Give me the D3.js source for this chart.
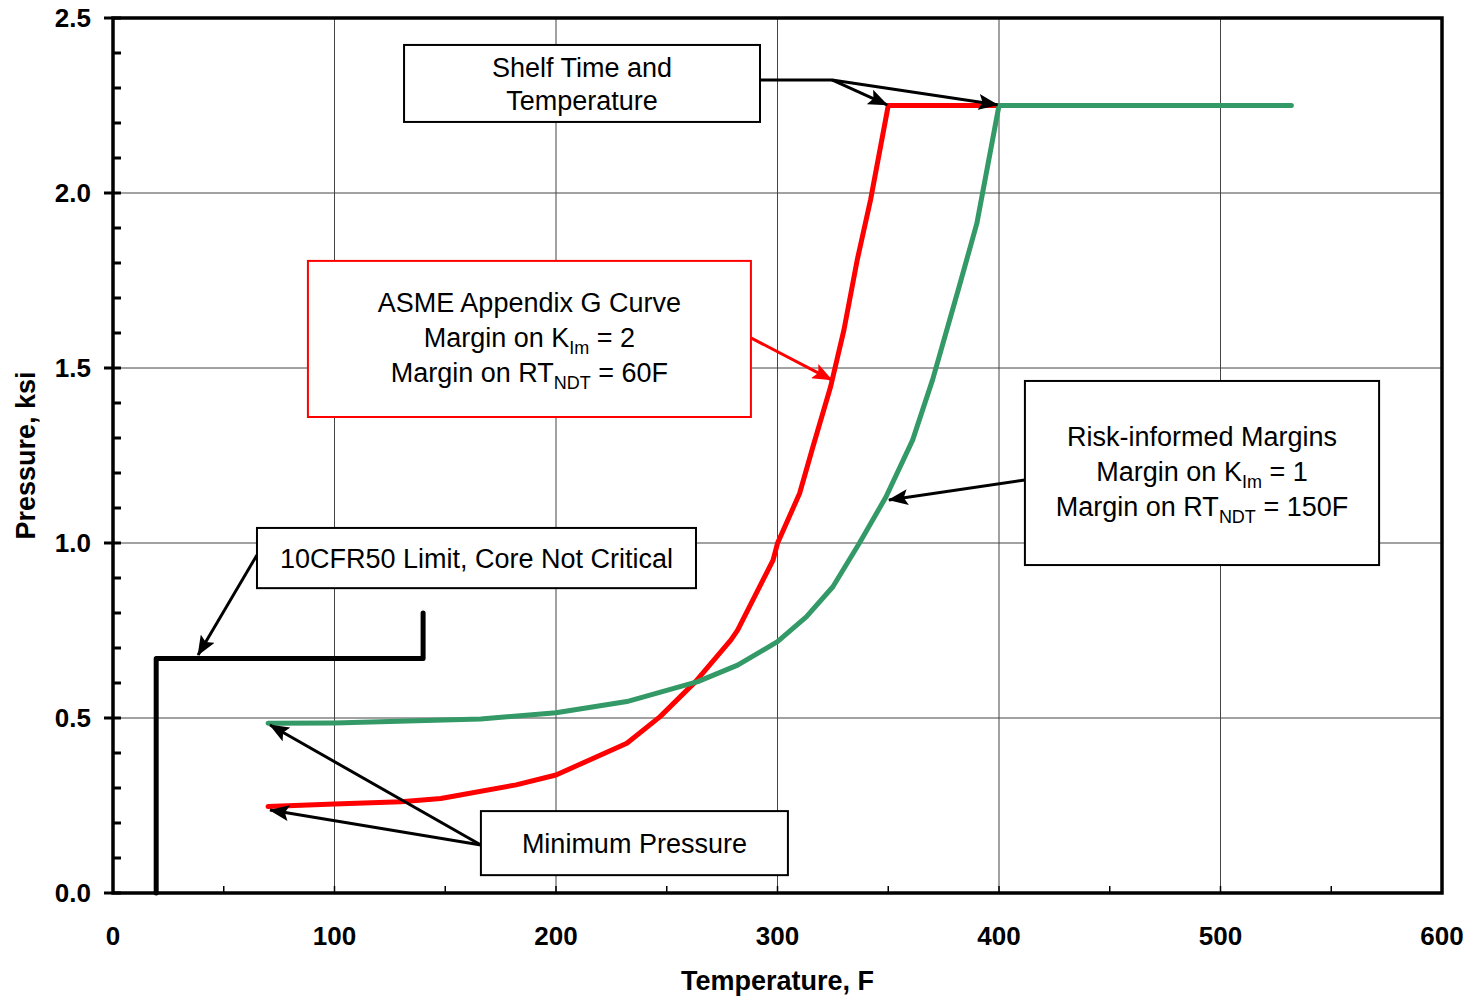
<!DOCTYPE html>
<html>
<head>
<meta charset="utf-8" />
<title>P-T limit curves</title>
<script src="https://cdnjs.cloudflare.com/ajax/libs/d3/7.8.5/d3.min.js"></script>
<style>
	body { margin: 0; background: #ffffff; }
	svg text { font-family: Arial, "Liberation Sans", sans-serif; }
	.tick-label { font-size: 26px; font-weight: bold; }
	.axis-title { font-size: 27px; font-weight: bold; }
	.box-text { font-size: 27px; }
</style>
</head>
<body>
<svg id="chart" width="1470" height="996"></svg>
<script>
// axis ticks
const xTicks = [0, 100, 200, 300, 400, 500, 600];
const yTicks = [0.0, 0.5, 1.0, 1.5, 2.0, 2.5];

// ASME Appendix G curve (temperature F, pressure ksi)
const asmeTemp = [70, 100, 130, 148, 182, 200, 232, 247, 263, 279, 282, 298, 300, 310, 316, 324, 330, 336, 342, 350, 400];
const asmePres = [0.247, 0.254, 0.261, 0.270, 0.309, 0.337, 0.428, 0.504, 0.604, 0.723, 0.751, 0.951, 0.999, 1.142, 1.275, 1.447, 1.609, 1.809, 1.980, 2.25, 2.25];

// Risk-informed curve
const riskTemp = [70, 100, 166, 200, 232, 264, 282, 300, 313, 325, 337, 349, 361, 370, 382, 390, 400, 532];
const riskPres = [0.485, 0.486, 0.497, 0.515, 0.547, 0.604, 0.651, 0.718, 0.789, 0.875, 1.0, 1.132, 1.294, 1.466, 1.732, 1.913, 2.25, 2.25];

// 10CFR50 limit, core not critical
const cfrTemp = [19.5, 19.5, 140, 140];
const cfrPres = [0, 0.67, 0.67, 0.8];

// annotation boxes in data units
const boxes = [
	{ lines: [["Shelf Time and"], ["Temperature"]], x0: 131.4, x1: 292.1, y0: 2.423, y1: 2.203, color: "#000", gap: 33, shift: 0 },
	{ lines: [["ASME Appendix G Curve"], ["Margin on K", "Im", " = 2"], ["Margin on RT", "NDT", " = 60F"]], x0: 88.0, x1: 288.0, y0: 1.806, y1: 1.36, color: "#ff0000", gap: 35, shift: -2 },
	{ lines: [["Risk-informed Margins"], ["Margin on K", "Im", " = 1"], ["Margin on RT", "NDT", " = 150F"]], x0: 411.7, x1: 571.6, y0: 1.463, y1: 0.937, color: "#000", gap: 35, shift: -2 },
	{ lines: [["10CFR50 Limit, Core Not Critical"]], x0: 65.0, x1: 263.2, y0: 1.043, y1: 0.871, color: "#000", gap: 0, shift: 0 },
	{ lines: [["Minimum Pressure"]], x0: 166.1, x1: 304.7, y0: 0.234, y1: 0.051, color: "#000", gap: 0, shift: 0 }
];

// leader lines and arrows [fromT, fromP, toT, toP, head]
const leaders = [
	[292.1, 2.323, 324.6, 2.323, false],
	[324.6, 2.323, 349.5, 2.252, true],
	[324.6, 2.323, 399.3, 2.252, true],
	[288.0, 1.586, 324.4, 1.466, true],
	[411.7, 1.18, 350.3, 1.123, true],
	[65.0, 0.966, 38.4, 0.68, true],
	[166.1, 0.137, 70.9, 0.48, true],
	[166.1, 0.137, 70.9, 0.237, true]
];
const leaderColors = ["#000", "#000", "#000", "#ff0000", "#000", "#000", "#000", "#000"];

const margin = { left: 113, top: 18, right: 28, bottom: 103 };
const width = 1470 - margin.left - margin.right;
const height = 996 - margin.top - margin.bottom;

const svg = d3.select("#chart");
const g = svg.append("g").attr("transform", `translate(${margin.left},${margin.top})`);

const x = d3.scaleLinear().domain([0, 600]).range([0, width]);
const y = d3.scaleLinear().domain([0, 2.5]).range([height, 0]);

// arrow heads
const defs = svg.append("defs");
["#000", "#ff0000"].forEach(function(c, i) {
	defs.append("marker")
		.attr("id", "arrow" + i)
		.attr("markerUnits", "userSpaceOnUse")
		.attr("viewBox", "0 0 20 16")
		.attr("refX", 19).attr("refY", 8)
		.attr("markerWidth", 20).attr("markerHeight", 16)
		.attr("orient", "auto")
		.append("path")
		.attr("d", "M0,0 L20,8 L0,16 L4,8 Z")
		.attr("fill", c);
});

// gridlines
g.append("g").selectAll("line")
	.data(xTicks.slice(1, -1))
	.enter().append("line")
	.attr("x1", d => x(d)).attr("x2", d => x(d))
	.attr("y1", 0).attr("y2", height)
	.attr("stroke", "#444").attr("stroke-width", 1);
g.append("g").selectAll("line")
	.data(yTicks.slice(1, -1))
	.enter().append("line")
	.attr("y1", d => y(d)).attr("y2", d => y(d))
	.attr("x1", 0).attr("x2", width)
	.attr("stroke", "#444").attr("stroke-width", 1);

// minor ticks
const yMinor = d3.range(0, 26).map(i => i / 10).filter(v => Math.abs(v * 2 - Math.round(v * 2)) > 1e-6);
g.append("g").selectAll("line")
	.data(yMinor)
	.enter().append("line")
	.attr("x1", 0).attr("x2", 8)
	.attr("y1", d => y(d)).attr("y2", d => y(d))
	.attr("stroke", "#000").attr("stroke-width", 3);
g.append("g").selectAll("line")
	.data(yTicks)
	.enter().append("line")
	.attr("x1", -9).attr("x2", 8)
	.attr("y1", d => y(d)).attr("y2", d => y(d))
	.attr("stroke", "#000").attr("stroke-width", 3);
const xMinor = d3.range(50, 600, 100);
g.append("g").selectAll("line")
	.data(xMinor.concat(xTicks.slice(1, -1)))
	.enter().append("line")
	.attr("x1", d => x(d)).attr("x2", d => x(d))
	.attr("y1", height).attr("y2", height - 7)
	.attr("stroke", "#000").attr("stroke-width", 1.5);

// tick labels
g.append("g").selectAll("text")
	.data(yTicks)
	.enter().append("text")
	.attr("class", "tick-label")
	.attr("x", -22).attr("y", d => y(d))
	.attr("dy", "0.36em")
	.attr("text-anchor", "end")
	.text(d => d.toFixed(1));
g.append("g").selectAll("text")
	.data(xTicks)
	.enter().append("text")
	.attr("class", "tick-label")
	.attr("x", d => x(d)).attr("y", height + 52)
	.attr("text-anchor", "middle")
	.text(d => d);

// axis titles
g.append("text").attr("class", "axis-title")
	.attr("x", width / 2).attr("y", height + 97)
	.attr("text-anchor", "middle")
	.text("Temperature, F");
g.append("text").attr("class", "axis-title")
	.attr("transform", `translate(${-78},${height / 2}) rotate(-90)`)
	.attr("text-anchor", "middle")
	.text("Pressure, ksi");

// curves
const line = d3.line().x(d => x(d[0])).y(d => y(d[1]));
function drawSeries(ts, ps, color) {
	g.append("path")
		.datum(ts.map((t, i) => [t, ps[i]]))
		.attr("d", line)
		.attr("fill", "none")
		.attr("stroke", color)
		.attr("stroke-width", 5)
		.attr("stroke-linejoin", "round")
		.attr("stroke-linecap", "round");
}
drawSeries(cfrTemp, cfrPres, "#000");
drawSeries(asmeTemp, asmePres, "#ff0000");
drawSeries(riskTemp, riskPres, "#339966");

// frame
g.append("rect")
	.attr("x", 0).attr("y", 0)
	.attr("width", width).attr("height", height)
	.attr("fill", "none").attr("stroke", "#000").attr("stroke-width", 3.5);

// leader lines
leaders.forEach(function(l, i) {
	const c = leaderColors[i];
	g.append("line")
		.attr("x1", x(l[0])).attr("y1", y(l[1]))
		.attr("x2", x(l[2])).attr("y2", y(l[3]))
		.attr("stroke", c).attr("stroke-width", 3)
		.attr("marker-end", l[4] ? `url(#arrow${c === "#000" ? 0 : 1})` : null);
});

// annotation boxes
boxes.forEach(function(b) {
	g.append("rect")
		.attr("x", x(b.x0)).attr("y", y(b.y0))
		.attr("width", x(b.x1) - x(b.x0))
		.attr("height", y(b.y1) - y(b.y0))
		.attr("fill", "#fff")
		.attr("stroke", b.color).attr("stroke-width", 2);
	const cx = (x(b.x0) + x(b.x1)) / 2;
	const cy = (y(b.y0) + y(b.y1)) / 2 + b.shift;
	const n = b.lines.length;
	b.lines.forEach(function(parts, i) {
		const t = g.append("text")
			.attr("class", "box-text")
			.attr("x", cx)
			.attr("y", cy + (i - (n - 1) / 2) * b.gap)
			.attr("dy", "0.36em")
			.attr("text-anchor", "middle");
		t.append("tspan").text(parts[0]);
		if (parts.length > 1) {
			t.append("tspan").attr("font-size", "18px").attr("dy", "7").text(parts[1]);
			t.append("tspan").attr("dy", "-7").text(parts[2]);
		}
	});
});
</script>
</body>
</html>
